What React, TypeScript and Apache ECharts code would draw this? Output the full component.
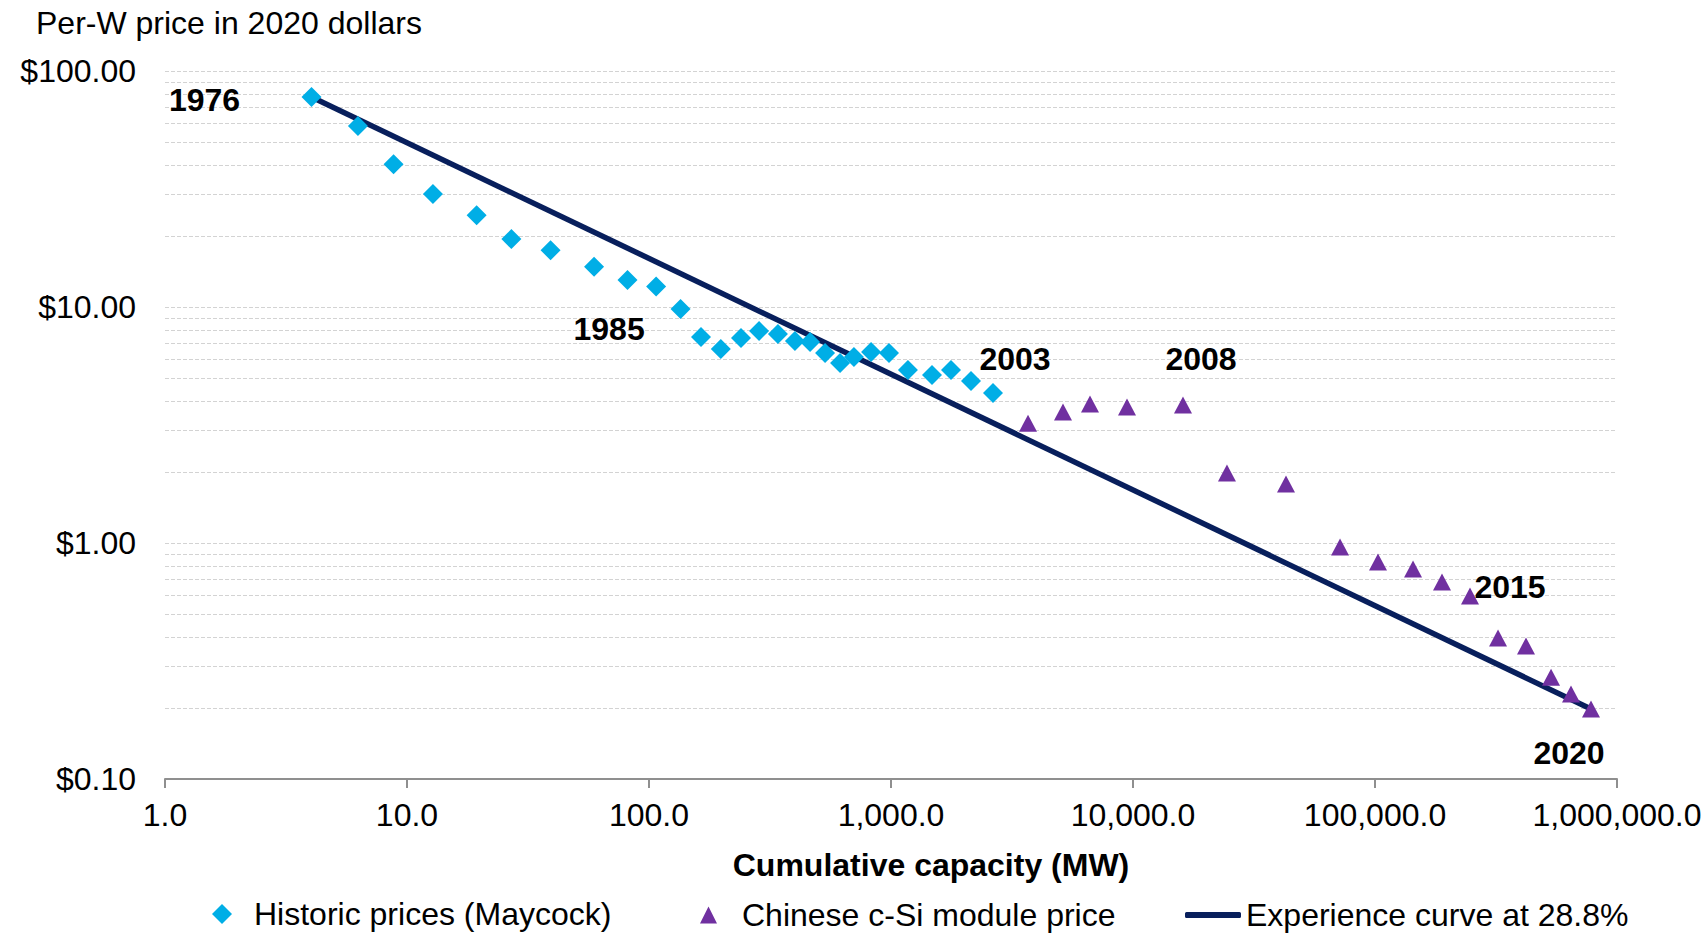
import React, { useEffect, useRef } from "react";
import * as echarts from "echarts";

// ---- data ----
const historicYears = [1976, 1977, 1978, 1979, 1980, 1981, 1982, 1983, 1984, 1985, 1986, 1987, 1988, 1989, 1990, 1991, 1992, 1993, 1994, 1995, 1996, 1997, 1998, 1999, 2000, 2001, 2002, 2003];
const historicCapacity = [4.03, 6.27, 8.8, 12.8, 19.4, 27.0, 39.2, 59.3, 81.5, 107, 135, 164, 198, 240, 285, 341, 401, 463, 534, 616, 703, 827, 981, 1175, 1477, 1770, 2141, 2640];
const historicPrice = [77.6, 58.5, 40.3, 30.1, 24.5, 19.4, 17.4, 14.8, 13.0, 12.2, 9.8, 7.46, 6.64, 7.39, 7.91, 7.68, 7.18, 7.11, 6.39, 5.79, 6.14, 6.45, 6.39, 5.41, 5.15, 5.41, 4.86, 4.32];

const chineseYears = [2004, 2005, 2006, 2007, 2008, 2009, 2010, 2011, 2012, 2013, 2014, 2015, 2016, 2017, 2018, 2019, 2020];
const chineseCapacity = [3683, 5137, 6642, 9446, 16090, 24450, 42880, 71700, 102900, 143600, 189200, 246900, 322400, 420700, 533900, 645500, 780800];
const chinesePrice = [3.22, 3.59, 3.88, 3.77, 3.84, 1.98, 1.78, 0.962, 0.831, 0.776, 0.684, 0.596, 0.396, 0.366, 0.27, 0.229, 0.198];

const curveCapacity = [4.03, 780800];
const curvePrice = [77.6, 0.198];

const labeledYears = [1976, 1985, 2003, 2008, 2015, 2020];
const minorGridValues = [0.2, 0.3, 0.4, 0.5, 0.6, 0.7, 0.8, 0.9, 2, 3, 4, 5, 6, 7, 8, 9, 20, 30, 40, 50, 60, 70, 80, 90];

const seriesNames = ["Historic prices (Maycock)", "Chinese c-Si module price", "Experience curve at 28.8%"];

// ---- styling / layout ----
const FONT = '"Liberation Sans", Arial, Helvetica, sans-serif';
const FS = 32;
const labelOffsets: Record<number, number[]> = {
  1976: [-107, 3],
  1985: [-47, 42],
  2003: [22, -34],
  2008: [18, -46],
  2015: [40, -9],
  2020: [-22, 44],
};

function buildPoints(xs: number[], ys: number[], yrs: number[]) {
  return xs.map((x, i) => {
    const yr = yrs[i];
    const item: any = { value: [x, ys[i]] };
    if (labeledYears.includes(yr)) {
      item.label = {
        show: true,
        formatter: String(yr),
        position: "inside",
        offset: labelOffsets[yr],
        align: "center",
        verticalAlign: "middle",
        fontSize: FS,
        fontWeight: "bold",
        color: "#000",
        opacity: 1,
        textBorderWidth: 0,
        fontFamily: FONT,
      };
    }
    return item;
  });
}

function fmtThousands(n: number) {
  return String(n).replace(/\B(?=(\d{3})+(?!\d))/g, ",");
}

export default function App() {
  const ref = useRef<HTMLDivElement>(null);

  useEffect(() => {
    if (!ref.current) return;
    const chart = echarts.init(ref.current, null, { renderer: "svg" });

    const legendText = { fontSize: FS, color: "#000", fontFamily: FONT };
    const seriesLabel = { color: "#000", opacity: 1, textBorderWidth: 0 };

    const option: any = {
      animation: false,
      backgroundColor: "#fff",
      textStyle: { fontFamily: FONT },
      title: {
        text: "Per-W price in 2020 dollars",
        left: 36,
        top: 7,
        padding: 0,
        textStyle: { fontSize: FS, fontWeight: "normal", color: "#000", fontFamily: FONT },
      },
      grid: { left: 165, right: 89, top: 71, bottom: 154, containLabel: false },
      legend: [
        {
          data: [seriesNames[0]],
          left: 212,
          top: 898,
          padding: 0,
          icon: "diamond",
          itemWidth: 20,
          itemHeight: 20,
          selectedMode: false,
          textStyle: { ...legendText, padding: [0, 0, 0, 17] },
        },
        {
          data: [seriesNames[1]],
          left: 700,
          top: 899,
          padding: 0,
          icon: "triangle",
          itemWidth: 17,
          itemHeight: 17,
          selectedMode: false,
          textStyle: { ...legendText, padding: [0, 0, 0, 20] },
        },
        {
          data: [seriesNames[2]],
          left: 1185,
          top: 899,
          padding: 0,
          icon: "roundRect",
          itemWidth: 56,
          itemHeight: 6,
          selectedMode: false,
          textStyle: { ...legendText },
        },
      ],
      xAxis: {
        type: "log",
        logBase: 10,
        min: 1,
        max: 1000000,
        name: "Cumulative capacity (MW)",
        nameLocation: "middle",
        nameGap: 70,
        nameTextStyle: {
          fontSize: FS,
          fontWeight: "bold",
          color: "#000",
          fontFamily: FONT,
          padding: [0, 0, 0, 80],
        },
        axisLine: { show: true, lineStyle: { color: "#8f8f8f", width: 2 } },
        axisTick: { show: true, length: 9, lineStyle: { color: "#8f8f8f", width: 2 } },
        axisLabel: {
          margin: 20,
          fontSize: FS,
          color: "#000",
          fontFamily: FONT,
          showMinLabel: true,
          showMaxLabel: true,
          formatter: (v: number) => {
            const n = Math.pow(10, Math.round(Math.log10(v)));
            return fmtThousands(n) + ".0";
          },
        },
        splitLine: { show: false },
        minorTick: { show: false },
      },
      yAxis: {
        type: "log",
        logBase: 10,
        min: 0.1,
        max: 100,
        axisLine: { show: false },
        axisTick: { show: false },
        axisLabel: {
          margin: 29,
          fontSize: FS,
          color: "#000",
          fontFamily: FONT,
          formatter: (v: number) => {
            const n = Math.pow(10, Math.round(Math.log10(v)));
            return "$" + n.toFixed(2);
          },
        },
        splitLine: { show: true, lineStyle: { color: "#d3d3d3", type: [4, 2], width: 1 } },
      },
      series: [
        {
          name: seriesNames[2],
          type: "line",
          z: 2,
          color: "#081f5c",
          showSymbol: false,
          symbol: "none",
          lineStyle: { color: "#081f5c", width: 5.5, opacity: 1 },
          data: curveCapacity.map((x, i) => [x, curvePrice[i]]),
          silent: true,
          markLine: {
            silent: true,
            z: 1,
            symbol: ["none", "none"],
            label: { show: false },
            emphasis: { disabled: true },
            lineStyle: { color: "#d3d3d3", type: [4, 2], width: 1 },
            data: minorGridValues.map((v) => ({ yAxis: v })),
          },
        },
        {
          name: seriesNames[0],
          type: "scatter",
          z: 3,
          symbol: "diamond",
          symbolSize: 20,
          itemStyle: { color: "#00aee6", opacity: 1 },
          label: seriesLabel,
          data: buildPoints(historicCapacity, historicPrice, historicYears),
        },
        {
          name: seriesNames[1],
          type: "scatter",
          z: 3,
          symbol: "triangle",
          symbolSize: [18, 17],
          itemStyle: { color: "#7030a0", opacity: 1 },
          label: seriesLabel,
          data: buildPoints(chineseCapacity, chinesePrice, chineseYears),
        },
      ],
    };

    chart.setOption(option);
    return () => chart.dispose();
  }, []);

  return (
    <div
      ref={ref}
      style={{ position: "fixed", left: 0, top: 0, width: 1706, height: 933, background: "#fff" }}
    />
  );
}
